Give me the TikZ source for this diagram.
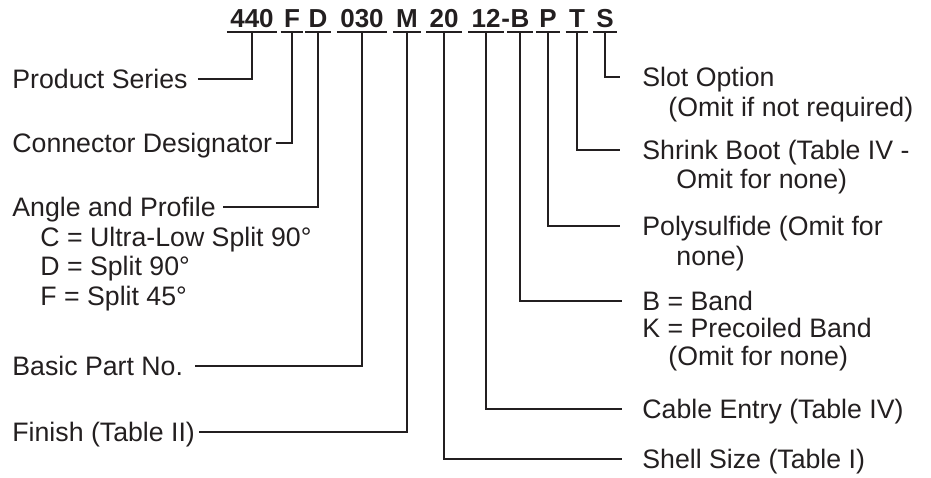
\documentclass[tikz,border=0pt]{standalone}
\usepackage{fontspec}
\setmainfont{Liberation Sans}
\usepackage{tikz}
\definecolor{ink}{RGB}{35,31,32}
\tikzset{
 code/.style={font=\bfseries\fontsize{13}{15}\selectfont,inner sep=0pt,text depth=2.5pt,anchor=base,text=ink},
 lbl/.style={font=\fontsize{13.35}{15}\selectfont,inner sep=0pt,text height=9.6pt,text depth=0pt,anchor=west,text=ink},
 lead/.style={draw=ink,line width=1pt}
}
\begin{document}
\begin{tikzpicture}[x=0.5pt,y=0.5pt]
\useasboundingbox (0,0) rectangle (931,-477);
% part number
\node[code](c440) at (252,-27){440};
\node[code](cF) at (292,-27){F};
\node[code](cD) at (318,-27){D};
\node[code](c030) at (362,-27){030};
\node[code](cM) at (407,-27){M};
\node[code](c20) at (444,-27){20};
\node[code](c12) at (486,-27){12};
\node[code,anchor=base west](dash) at (c12.base east){-};
\node[code,anchor=base west](cB) at (dash.base east){B};
\node[code](cP) at (548,-27){P};
\node[code](cT) at (577,-27){T};
\node[code](cS) at (605,-27){S};
\foreach \c in {c440,cF,cD,c030,cM,c20,c12,cB,cP,cT,cS}
  \draw[lead] ([xshift=-1.5pt]\c.south west)--([xshift=1.5pt]\c.south east);
% left side
\node[lbl](ps) at (12,-79){Product Series};
\node[lbl](cd) at (12,-143){Connector Designator};
\node[lbl](ap) at (12,-207){Angle and Profile};
\node[lbl](apc) at (40,-237){C = Ultra-Low Split 90°};
\node[lbl](apd) at (40,-266){D = Split 90°};
\node[lbl](apf) at (40,-296){F = Split 45°};
\node[lbl](bp) at (12,-366){Basic Part No.};
\node[lbl](fin) at (12,-432){Finish (Table II)};
% right side
\node[lbl](slot) at (642,-77){Slot Option};
\node[lbl](slotb) at (668,-107){(Omit if not required)};
\node[lbl](shrink) at (642,-150){Shrink Boot (Table IV -};
\node[lbl](shrinkb) at (676,-179){Omit for none)};
\node[lbl](poly) at (642,-226){Polysulfide (Omit for};
\node[lbl](polyb) at (676,-256){none)};
\node[lbl](band) at (642,-301){B = Band};
\node[lbl](bandk) at (642,-328){K = Precoiled Band};
\node[lbl](bandb) at (668,-356){(Omit for none)};
\node[lbl](cable) at (642,-409){Cable Entry (Table IV)};
\node[lbl](shell) at (642,-459){Shell Size (Table I)};
% leaders
\draw[lead] ([xshift=5pt]ps.east) -| (c440.south);
\draw[lead] ([xshift=1.5pt]cd.east) -| (cF.south);
\draw[lead] ([xshift=3.5pt]ap.east) -| (cD.south);
\draw[lead] ([xshift=6pt]bp.east) -| (c030.south);
\draw[lead] ([xshift=2pt]fin.east) -| (cM.south);
\draw[lead] (c20.south) |- ([xshift=-10pt]shell.west);
\draw[lead] (c12.south) |- ([xshift=-10pt]cable.west);
\draw[lead] (cB.south) |- ([xshift=-10pt]band.west);
\draw[lead] (cP.south) |- ([xshift=-11pt]poly.west);
\draw[lead] (cT.south) |- ([xshift=-11pt]shrink.west);
\draw[lead] (cS.south) |- ([xshift=-11pt]slot.west);
\end{tikzpicture}
\end{document}
